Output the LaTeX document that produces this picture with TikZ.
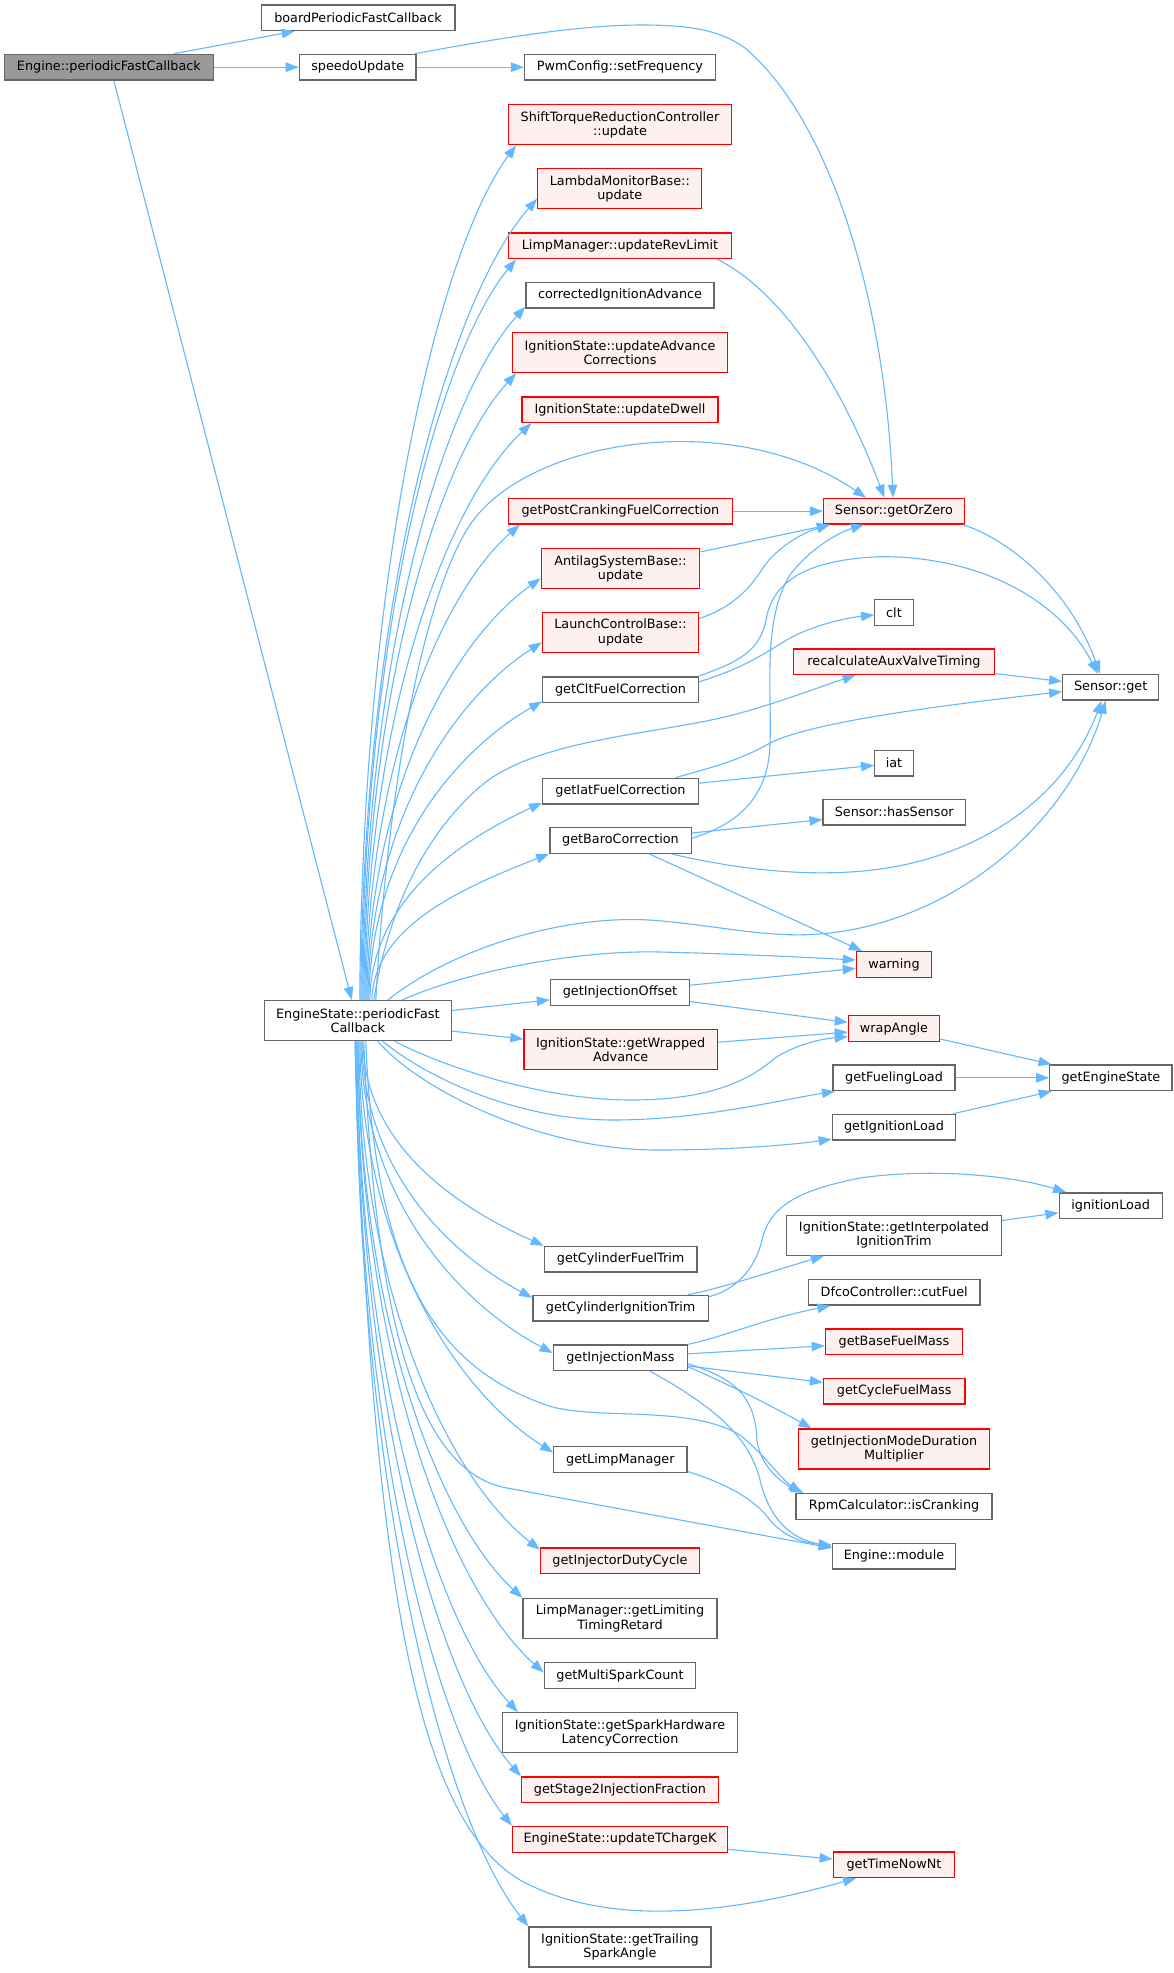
\documentclass[tikz,border=0pt]{standalone}
\usepackage{fontspec}
\setmainfont{DejaVu Sans}
\usetikzlibrary{arrows.meta,calc}
\definecolor{eblue}{HTML}{63B8FF}
\definecolor{ngray}{HTML}{666666}
\definecolor{rfill}{HTML}{FFF0F0}
\definecolor{gfill}{HTML}{999999}
\tikzset{
  nd/.style={draw=ngray, line width=1.3pt, fill=white, inner sep=0pt, align=center, text=black, minimum height=25.7pt},
  rd/.style={nd, draw=red, fill=rfill},
  two/.style={minimum height=40pt},
  edge/.style={draw=eblue, line width=1.1pt, -{Triangle[length=13pt,width=9.5pt]}},
}
\newcommand\fanup[2]{\draw[edge] let \p1=(#1), \p2=(#2) in (\p1) .. controls ({\x1+2pt},{0.5*\y1+0.5*\y2}) and ({0.5*\x1+0.5*\x2},{\y2-0.1*(\y2-\y1)-20pt}) .. (\p2);}
\newcommand\fandown[2]{\draw[edge] let \p1=(#1), \p2=(#2) in (\p1) .. controls ({\x1+2pt},{0.5*\y1+0.5*\y2}) and ({0.5*\x1+0.5*\x2},{\y2+0.1*(\y1-\y2)+20pt}) .. (\p2);}
\begin{document}
\begin{tikzpicture}[x=1pt,y=1pt,font=\fontsize{12.8}{14.4}\selectfont]
\useasboundingbox[fill=white] (0,0) rectangle (1173,-1973);
% column A/B
\node[nd, fill=gfill, minimum width=208.6pt] (A) at (108.9,-67.2) {Engine::periodicFastCallback};
\node[nd, minimum width=193.7pt] (bp) at (358,-17.7) {boardPeriodicFastCallback};
\node[nd, minimum width=116.7pt] (su) at (357.7,-67.2) {speedoUpdate};
\node[nd, two, minimum width=187pt] (es) at (357.8,-1020.7) {EngineState::periodicFast\\Callback};
% column C
\node[nd, minimum width=191pt] (pw) at (620,-67.2) {PwmConfig::setFrequency};
\node[rd, two, minimum width=222.7pt] (st) at (620,-124.7) {ShiftTorqueReductionController\\::update};
\node[rd, two, minimum width=164pt] (lm) at (619.8,-188.7) {LambdaMonitorBase::\\update};
\node[rd, minimum width=222.7pt] (lr) at (620,-245.9) {LimpManager::updateRevLimit};
\node[nd, minimum width=188pt] (ci) at (620,-295.2) {correctedIgnitionAdvance};
\node[rd, two, minimum width=214.6pt] (ua) at (620,-352.7) {IgnitionState::updateAdvance\\Corrections};
\node[rd, minimum width=196pt] (ud) at (620,-409.7) {IgnitionState::updateDwell};
\node[rd, minimum width=224pt] (pc) at (620.4,-511.2) {getPostCrankingFuelCorrection};
\node[rd, two, minimum width=158.3pt] (al) at (620.5,-568.7) {AntilagSystemBase::\\update};
\node[rd, two, minimum width=156pt] (lc) at (620.5,-632.5) {LaunchControlBase::\\update};
\node[nd, minimum width=155.5pt] (cf) at (620.5,-689.8) {getCltFuelCorrection};
\node[nd, minimum width=155.5pt] (if) at (620.5,-791.2) {getIatFuelCorrection};
\node[nd, minimum width=141.3pt] (bc) at (620.5,-840.3) {getBaroCorrection};
\node[nd, minimum width=139pt] (io) at (620,-992.3) {getInjectionOffset};
\node[rd, two, minimum width=193.3pt] (wa) at (620.6,-1049.8) {IgnitionState::getWrapped\\Advance};
\node[nd, minimum width=152.5pt] (cft) at (620.6,-1259.2) {getCylinderFuelTrim};
\node[nd, minimum width=175.5pt] (cit) at (620.6,-1308.2) {getCylinderIgnitionTrim};
\node[nd, minimum width=134.3pt] (im) at (620.4,-1357.8) {getInjectionMass};
\node[nd, minimum width=133.3pt] (lp) at (620.4,-1459.5) {getLimpManager};
\node[rd, minimum width=159pt] (idc) at (620,-1560.7) {getInjectorDutyCycle};
\node[nd, two, minimum width=194pt] (ltr) at (620,-1618.5) {LimpManager::getLimiting\\TimingRetard};
\node[nd, minimum width=151.5pt] (msc) at (620,-1675.5) {getMultiSparkCount};
\node[nd, two, minimum width=235pt] (shl) at (620,-1732.7) {IgnitionState::getSparkHardware\\LatencyCorrection};
\node[rd, minimum width=197pt] (s2) at (620,-1789.8) {getStage2InjectionFraction};
\node[rd, minimum width=215pt] (tck) at (620,-1839.3) {EngineState::updateTChargeK};
\node[nd, two, minimum width=182pt] (tsa) at (620,-1947) {IgnitionState::getTrailing\\SparkAngle};
% column D
\node[rd, minimum width=140.8pt] (goz) at (894,-511.2) {Sensor::getOrZero};
\node[nd, minimum width=38.6pt] (clt) at (894,-612.5) {clt};
\node[rd, minimum width=201.4pt] (rav) at (894,-661.7) {recalculateAuxValveTiming};
\node[nd, minimum width=38.6pt] (iat) at (894,-763.2) {iat};
\node[nd, minimum width=142.2pt] (hs) at (894.2,-812.2) {Sensor::hasSensor};
\node[rd, minimum width=75.2pt] (warn) at (894,-964.5) {warning};
\node[rd, minimum width=91.2pt] (wrap) at (894,-1028.5) {wrapAngle};
\node[nd, minimum width=122.2pt] (gfl) at (894,-1077.8) {getFuelingLoad};
\node[nd, minimum width=123.2pt] (gil) at (894,-1127.2) {getIgnitionLoad};
\node[nd, two, minimum width=214.6pt] (iit) at (894,-1235.2) {IgnitionState::getInterpolated\\IgnitionTrim};
\node[nd, minimum width=171.6pt] (dfc) at (894.2,-1292.2) {DfcoController::cutFuel};
\node[rd, minimum width=137.4pt] (bfm) at (894,-1341.7) {getBaseFuelMass};
\node[rd, minimum width=141.3pt] (cfm) at (894.2,-1391) {getCycleFuelMass};
\node[rd, two, minimum width=191.6pt] (imd) at (894,-1449) {getInjectionModeDuration\\Multiplier};
\node[nd, minimum width=196pt] (rpm) at (894,-1506.3) {RpmCalculator::isCranking};
\node[nd, minimum width=123.2pt] (em) at (894,-1556) {Engine::module};
\node[rd, minimum width=121.4pt] (tn) at (894,-1864.7) {getTimeNowNt};
% column E
\node[nd, minimum width=96pt] (sg) at (1110.7,-687.2) {Sensor::get};
\node[nd, minimum width=122.2pt] (ges) at (1110.9,-1077.8) {getEngineState};
\node[nd, minimum width=103.1pt] (il) at (1110.7,-1205.7) {ignitionLoad};
% ---- edges from Engine::periodicFastCallback
\draw[edge] ([xshift=65pt]A.north) -- ([xshift=-63.3pt]bp.south);
\draw[edge] (A) -- (su);
\draw[edge] ([xshift=5pt]A.south) -- ([xshift=-6pt]es.north);
\draw[edge] (su) -- (pw);
\draw[edge] ([xshift=-2pt]su.north east) .. controls (500,-38) and (580,-25) .. (641.6,-25) .. controls (690,-25) and (720,-30) .. (745,-48) .. controls (830,-120) and (885,-300) .. ([xshift=-1pt]goz.north);
\draw[edge] ([xshift=-14.6pt]lr.south east) .. controls (780,-290) and (840,-380) .. ([xshift=-9.6pt]goz.north);
% ---- fan up
\fanup{[xshift=2pt]es.north}{[xshift=8pt]st.south west}
\fanup{[xshift=3pt]es.north}{[yshift=-10pt]lm.west}
\fanup{[xshift=4pt]es.north}{[xshift=8pt]lr.south west}
\fanup{[xshift=5pt]es.north}{[yshift=2pt]ci.south west}
\fanup{[xshift=6pt]es.north}{[xshift=4pt]ua.south west}
\fanup{[xshift=7pt]es.north}{[xshift=10pt]ud.south west}
\fanup{[xshift=8pt]es.north}{[xshift=12pt]pc.south west}
\fanup{[xshift=9pt]es.north}{[yshift=-9.6pt]al.west}
\fanup{[xshift=10pt]es.north}{[yshift=-9.8pt]lc.west}
\fanup{[xshift=11pt]es.north}{[yshift=2pt]cf.south west}
\fanup{[xshift=12pt]es.north}{[yshift=2pt]if.south west}
\fanup{[xshift=14pt]es.north}{bc.south west}
% ---- es to far nodes (upper)
\draw[edge] ([xshift=18pt]es.north) .. controls (390,-750) and (430,-590) .. (466.7,-530) .. controls (520,-440) and (730,-405) .. ([xshift=-28pt]goz.north);
\draw[edge] ([xshift=16pt]es.north) .. controls (390,-900) and (430,-830) .. (480,-786.7) .. controls (530,-743) and (640,-735) .. (711,-720) .. controls (760,-710) and (810,-690) .. ([xshift=-38.4pt]rav.south);
\draw[edge] ([xshift=30pt]es.north) .. controls (450,-950) and (560,-915) .. (649,-920) .. controls (720,-925) and (770,-940) .. (830,-933) .. controls (960,-918) and (1070,-820) .. ([xshift=-5pt]sg.south);
\draw[edge] ([xshift=44pt]es.north) .. controls (470,-970) and (580,-950) .. (660,-952) .. controls (740,-954) and (800,-957) .. ([yshift=4.5pt]warn.west);
\draw[edge] (es) -- (io);
\draw[edge] (es) -- (wa);
\draw[edge] ([xshift=37pt]es.south) .. controls (440,-1065) and (540,-1100) .. (631,-1100) .. controls (710,-1100) and (750,-1080) .. (775,-1058) .. controls (795,-1045) and (820,-1039) .. ([yshift=-8.2pt]wrap.west);
\draw[edge] ([xshift=25pt]es.south) .. controls (430,-1080) and (520,-1120) .. (613,-1120) .. controls (700,-1120) and (780,-1100) .. ([xshift=2.7pt]gfl.south west);
\draw[edge] ([xshift=20pt]es.south) .. controls (420,-1090) and (540,-1150) .. (658,-1150) .. controls (730,-1150) and (790,-1145) .. ([yshift=-12pt]gil.west);
% ---- fan down
\fandown{[xshift=5pt]es.south}{cft.north west}
\fandown{[xshift=4pt]es.south}{[yshift=-3pt]cit.north west}
\fandown{[xshift=3pt]es.south}{[yshift=4.8pt]im.west}
\fandown{[xshift=2pt]es.south}{[yshift=7pt]lp.west}
\fandown{[xshift=1pt]es.south}{[yshift=-2.5pt]idc.north west}
\fandown{es.south}{ltr.north west}
\fandown{es.south}{[yshift=3pt]msc.west}
\fandown{[xshift=-1pt]es.south}{[xshift=16pt]shl.north west}
\fandown{[xshift=-1pt]es.south}{s2.north west}
\fandown{[xshift=-2pt]es.south}{tck.north west}
\fandown{[xshift=-2pt]es.south}{tsa.north west}
\draw[edge] ([xshift=6pt]es.south) .. controls (375,-1330) and (420,-1472) .. (507,-1488) -- ([yshift=8pt]em.west);
\draw[edge] ([xshift=8pt]es.south) .. controls (375,-1280) and (440,-1370) .. (551,-1406.6) .. controls (600,-1420) and (690,-1405) .. (740,-1435) .. controls (765,-1455) and (780,-1478) .. ([xshift=6pt]rpm.north west);
\draw[edge] ([xshift=-3pt]es.south) .. controls (372,-1600) and (420,-1820) .. (520,-1880) .. controls (620,-1935) and (760,-1905) .. ([xshift=23.4pt]tn.south west);
% ---- column C to D/E
\draw[edge] (pc) -- (goz);
\draw[edge] (al) -- (goz);
\draw[edge] ([yshift=14pt]lc.east) .. controls (740,-605) and (755,-580) .. (765,-565) .. controls (780,-545) and (805,-532) .. ([xshift=7pt]goz.south west);
\draw[edge] ([yshift=2pt]bc.east) .. controls (735,-825) and (768,-800) .. (770,-745) .. controls (772,-690) and (762,-620) .. (790,-575) .. controls (810,-548) and (840,-532) .. ([xshift=41pt]goz.south west);
\draw[edge] ([xshift=-2pt]goz.south east) .. controls (1010,-540) and (1070,-590) .. ([xshift=-10.7pt]sg.north);
\draw[edge] ([yshift=8pt]cf.east) .. controls (745,-668) and (770,-650) .. (790,-638) .. controls (815,-625) and (845,-618) .. ([yshift=-2.5pt]clt.west);
\draw[edge] ([xshift=-1pt]cf.north east) .. controls (740,-662) and (760,-650) .. (766,-620) .. controls (772,-585) and (800,-560) .. (880,-556.7) .. controls (980,-556) and (1060,-600) .. ([xshift=-13pt]sg.north);
\draw[edge] (rav) -- (sg);
\draw[edge] (if) -- (iat);
\draw[edge] ([xshift=55pt]if.north) .. controls (720,-765) and (740,-760) .. (770,-743) .. controls (800,-728) and (880,-712) .. ([yshift=-4.5pt]sg.west);
\draw[edge] (bc) -- (hs);
\draw[edge] ([xshift=50.5pt]bc.south) .. controls (740,-870) and (800,-875) .. (850,-872) .. controls (960,-866) and (1060,-810) .. ([xshift=-9pt]sg.south);
\draw[edge] ([xshift=28.5pt]bc.south) -- ([xshift=-32pt]warn.north);
\draw[edge] (io) -- (warn);
\draw[edge] (io) -- (wrap);
\draw[edge] (wa) -- (wrap);
\draw[edge] (wrap) -- (ges);
\draw[edge] (gfl) -- (ges);
\draw[edge] (gil) -- (ges);
\draw[edge] ([xshift=67pt]cit.north) .. controls (715,-1290) and (770,-1272) .. ([xshift=37.7pt]iit.south west);
\draw[edge] ([yshift=11.5pt]cit.east) .. controls (735,-1290) and (755,-1270) .. (762,-1240) .. controls (770,-1205) and (800,-1190) .. (860,-1178) .. controls (930,-1168) and (1010,-1175) .. ([xshift=7.6pt]il.north west);
\draw[edge] (iit) -- (il);
\draw[edge] (im.north east) .. controls (730,-1335) and (760,-1320) .. ([xshift=22.6pt]dfc.south west);
\draw[edge] (im) -- (bfm);
\draw[edge] (im) -- (cfm);
\draw[edge] ([yshift=-9pt]im.east) .. controls (730,-1385) and (770,-1405) .. ([xshift=14pt]imd.north west);
\draw[edge] ([yshift=-6pt]im.east) .. controls (740,-1380) and (755,-1400) .. (757,-1440) .. controls (760,-1465) and (780,-1482) .. ([xshift=8pt]rpm.north west);
\draw[edge] ([xshift=30pt]im.south) .. controls (720,-1410) and (750,-1440) .. (760,-1480) .. controls (770,-1520) and (790,-1538) .. ([yshift=9pt]em.west);
\draw[edge] ([yshift=-12pt]lp.east) .. controls (730,-1485) and (755,-1500) .. (770,-1520) .. controls (785,-1538) and (805,-1543) .. ([yshift=11pt]em.west);
\draw[edge] (tck) -- (tn);
\end{tikzpicture}
\end{document}
